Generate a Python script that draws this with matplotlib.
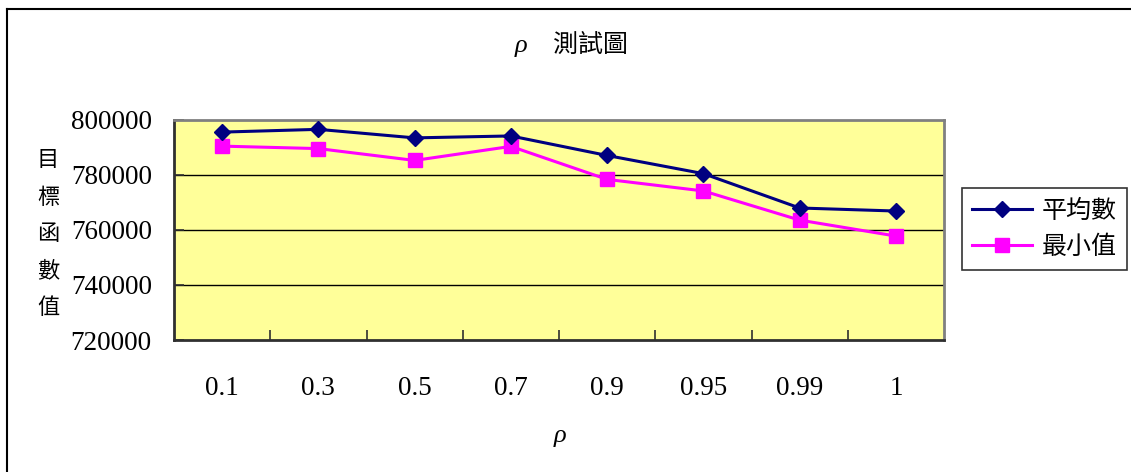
import matplotlib
matplotlib.use("Agg")
import matplotlib.pyplot as plt
from matplotlib.lines import Line2D

categories = ["0.1", "0.3", "0.5", "0.7", "0.9", "0.95", "0.99", "1"]
mean_vals = [795600, 796600, 793500, 794200, 787100, 780500, 768000, 766900]
min_vals = [790500, 789600, 785300, 790400, 778400, 774200, 763600, 757800]
yticks = [720000, 740000, 760000, 780000, 800000]
series_names = ["平均數", "最小值"]

W, H = 1131, 472
fig = plt.figure(figsize=(W / 100, H / 100), dpi=100)
fig.patch.set_facecolor("white")

# outer chart border (extends past the right and bottom edges)
fig.add_artist(Line2D([7 / W, 7 / W], [0, 1 - 9 / H], color="black", lw=1.5, transform=fig.transFigure))
fig.add_artist(Line2D([7 / W, 1], [1 - 9 / H, 1 - 9 / H], color="black", lw=1.5, transform=fig.transFigure))

ax = fig.add_axes([174 / W, 1 - 340 / H, (944 - 174) / W, (340 - 120) / H])
ax.set_facecolor("#FFFF99")

x = list(range(len(categories)))
ax.plot(x, mean_vals, color="#000080", lw=2.2, marker="D", markersize=8.5,
        markerfacecolor="#000080", markeredgecolor="#000080", zorder=4)
ax.plot(x, min_vals, color="#FF00FF", lw=2.2, marker="s", markersize=9.5,
        markerfacecolor="#FF00FF", markeredgecolor="#FF00FF", zorder=3)

ax.set_xlim(-0.5, len(categories) - 0.5)
ax.set_ylim(720000, 800000)
ax.set_yticks(yticks)
ax.set_yticklabels([str(v) for v in yticks], fontfamily="Liberation Serif", fontsize=19.5)
for v in yticks[1:-1]:
    ax.axhline(v, color="black", lw=1, zorder=1)

ax.set_xticks([i + 0.5 for i in range(len(categories) - 1)])
ax.set_xticklabels([])
ax.set_xticks(x, minor=True)
ax.set_xticklabels(categories, minor=True, fontfamily="Liberation Serif", fontsize=19.5)
ax.tick_params(axis="x", which="minor", length=0, pad=26)
ax.tick_params(axis="x", which="major", direction="in", length=7, width=1.2, color="#303030")
ax.tick_params(axis="y", direction="in", length=7, width=1.2, color="#303030", pad=16)

for s in ["left", "bottom"]:
    ax.spines[s].set_color("#303030")
    ax.spines[s].set_linewidth(2)
for s in ["top", "right"]:
    ax.spines[s].set_color("#808080")
    ax.spines[s].set_linewidth(2)

# title
fig.text(521 / W, 1 - 46 / H, "ρ", fontfamily="Liberation Serif", style="italic",
         fontsize=19, ha="center", va="center")
fig.text(590 / W, 1 - 45 / H, "測試圖", fontfamily="Noto Sans CJK TC", fontsize=18,
         ha="center", va="center")

# x label
fig.text(560 / W, 1 - 436 / H, "ρ", fontfamily="Liberation Serif", style="italic",
         fontsize=19, ha="center", va="center")

# y label, stacked vertically
ylab = "目標函數值"
for i, ch in enumerate(ylab):
    fig.text(48 / W, 1 - (160 + i * 37) / H, ch, fontfamily="Noto Sans CJK TC",
             fontsize=16, ha="center", va="center")

# legend
handles = [
    Line2D([], [], color="#000080", lw=2.2, marker="D", markersize=8.5,
           markerfacecolor="#000080", markeredgecolor="#000080"),
    Line2D([], [], color="#FF00FF", lw=2.2, marker="s", markersize=9.5,
           markerfacecolor="#FF00FF", markeredgecolor="#FF00FF"),
]
leg = fig.legend(handles, series_names, loc="center", bbox_to_anchor=(1044 / W, 1 - 229 / H),
                 prop={"family": "Noto Sans CJK TC", "size": 18}, frameon=True, fancybox=False,
                 edgecolor="black", handlelength=2.4, handletextpad=0.4, borderpad=0.4,
                 labelspacing=0.4, borderaxespad=0)
leg.get_frame().set_linewidth(1.2)

fig.savefig("out.png", dpi=100, facecolor="white")
